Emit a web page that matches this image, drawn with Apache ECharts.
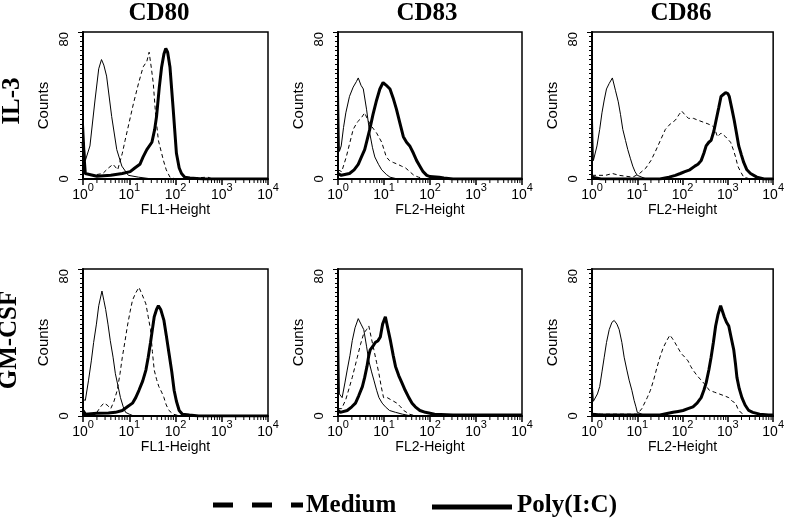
<!DOCTYPE html>
<html>
<head>
<meta charset="utf-8">
<script src="https://cdn.jsdelivr.net/npm/echarts@6/dist/echarts.min.js"></script>
<style>
  html, body { margin: 0; background: #fff; }
  #chart { width: 787px; height: 520px; }
</style>
</head>
<body>
<div id="chart"></div>
<script>
// labels
const markers = ['CD80', 'CD83', 'CD86']
const cultures = ['IL-3', 'GM-CSF']
const channels = ['FL1-Height', 'FL2-Height', 'FL2-Height']
const legendNames = ['Medium', 'Poly(I:C)']
const yLabels = [0, 80]

// histograms: [log10 decade, counts]
const il3Cd80Iso = [[0,35],[0.05,10],[0.09,9],[0.15,18],[0.26,43],[0.34,60],[0.40,65],[0.45,62],[0.51,56],[0.62,34],[0.73,16],[0.84,7],[0.98,2],[1.2,1],[1.5,0],[4,0]]
const il3Cd80Medium = [[0,3],[0.2,2],[0.43,3],[0.55,6],[0.65,8],[0.75,5],[0.85,14],[0.91,21],[1.0,31],[1.09,41],[1.2,52],[1.30,61],[1.38,64],[1.43,69],[1.48,60],[1.52,52],[1.57,35],[1.63,21],[1.70,14],[1.74,10],[1.80,5],[1.88,1],[2.0,0],[2.7,1],[2.8,0],[4,0]]
const il3Cd80Poly = [[0,20],[0.05,3],[0.3,1.5],[0.6,2],[0.85,3],[1.02,4],[1.12,6],[1.23,8],[1.30,12],[1.38,16],[1.49,20],[1.55,27],[1.59,34],[1.65,50],[1.70,61],[1.75,68],[1.79,71],[1.83,69],[1.88,61],[1.95,38],[2.02,14],[2.08,6],[2.13,3],[2.2,1],[2.31,0.5],[2.6,0],[4,0]]

const il3Cd83Iso = [[0,66],[0.03,15],[0.07,18],[0.12,28],[0.17,36],[0.25,45],[0.33,50],[0.40,53],[0.44,55],[0.50,51],[0.55,49],[0.62,38],[0.69,25],[0.75,17],[0.80,12],[0.88,8],[0.95,5],[1.05,2.5],[1.13,1],[1.3,0],[4,0]]
const il3Cd83Medium = [[0,5],[0.08,4],[0.13,8],[0.18,12],[0.25,19],[0.33,27],[0.42,31],[0.50,33],[0.58,36],[0.65,32],[0.72,29],[0.78,27],[0.84,25],[0.95,20],[1.05,12],[1.12,10],[1.2,9],[1.30,8],[1.38,7],[1.47,6],[1.56,4],[1.65,2],[1.75,1],[1.9,0],[4,0]]
const il3Cd83Poly = [[0,3],[0.07,2],[0.25,3],[0.35,5],[0.44,8],[0.51,12],[0.58,16],[0.64,22],[0.69,27],[0.76,35],[0.84,43],[0.91,49],[0.98,52.5],[1.05,51],[1.13,49],[1.20,44],[1.27,38],[1.35,30],[1.42,23],[1.49,20],[1.56,18],[1.64,14],[1.71,10],[1.78,7],[1.85,4],[1.93,2],[2.0,1.3],[2.2,1],[2.3,0.5],[2.5,0],[4,0]]

const il3Cd86Iso = [[0,45],[0.03,10],[0.07,9],[0.11,18],[0.17,27],[0.22,36],[0.27,43],[0.32,49],[0.38,52],[0.45,55],[0.52,48],[0.58,42],[0.63,35],[0.68,27],[0.74,21],[0.79,16],[0.85,11],[0.90,7],[0.95,4],[1.0,2],[1.1,1],[1.2,0],[4,0]]
const il3Cd86Medium = [[0,2],[0.3,2],[0.45,3],[0.6,2],[0.9,1],[1.05,3],[1.19,6],[1.30,10],[1.40,15],[1.51,21],[1.62,27],[1.73,30],[1.84,32],[1.92,35],[1.98,37],[2.05,35],[2.13,33],[2.24,33],[2.34,32],[2.45,31],[2.56,30],[2.65,29],[2.70,28],[2.77,23],[2.85,25],[2.95,23],[3.06,20],[3.12,16],[3.17,12],[3.22,7],[3.28,4],[3.35,1],[3.5,0],[4,0]]
const il3Cd86Poly = [[0,1],[0.2,0],[1.5,0],[1.7,1],[1.84,2],[1.95,3],[2.05,4],[2.16,5],[2.27,7],[2.34,8],[2.41,10],[2.47,14],[2.52,18],[2.58,20],[2.63,21],[2.69,26],[2.74,32],[2.80,39],[2.85,45],[2.90,46],[2.95,47],[3.0,46.5],[3.03,45],[3.09,38],[3.14,32],[3.19,25],[3.24,18],[3.30,13],[3.35,9],[3.42,5],[3.5,3],[3.64,1],[3.8,0],[4,0]]

const gmCd80Iso = [[0,9],[0.05,8.5],[0.12,19.5],[0.18,30],[0.23,40],[0.29,50],[0.34,60],[0.41,68],[0.45,63],[0.49,58],[0.54,50],[0.59,41],[0.65,32],[0.70,23],[0.76,16],[0.81,10],[0.87,5],[0.92,2],[1.0,1],[1.1,0],[4,0]]
const gmCd80Medium = [[0,1],[0.2,1],[0.3,2],[0.38,5],[0.45,7],[0.52,6],[0.6,4],[0.67,8],[0.74,14],[0.80,23],[0.85,32],[0.91,41],[0.96,49],[1.02,57],[1.07,63],[1.14,67],[1.21,70],[1.28,66],[1.36,61],[1.41,54],[1.46,47],[1.50,35],[1.54,25],[1.59,20],[1.64,16],[1.70,13],[1.75,10],[1.80,6],[1.86,3],[1.95,1],[2.1,0],[4,0]]
const gmCd80Poly = [[0,3],[0.05,1],[0.3,1.5],[0.55,1.6],[0.70,2],[0.85,3],[0.96,5],[1.07,7],[1.14,10],[1.21,14],[1.29,19],[1.36,25],[1.41,32],[1.46,40],[1.50,47],[1.54,54],[1.59,58],[1.63,60],[1.68,58],[1.75,52],[1.80,44],[1.86,34],[1.92,24],[1.97,14],[2.02,8],[2.08,3],[2.15,1],[2.3,0.5],[2.5,0],[4,0]]

const gmCd83Iso = [[0,71],[0.03,12],[0.09,10],[0.15,18],[0.20,25],[0.26,33],[0.31,41],[0.37,48],[0.44,53],[0.50,50],[0.56,47],[0.62,38],[0.67,30],[0.73,24],[0.78,19.5],[0.84,14],[0.89,10],[0.96,7],[1.03,5],[1.12,3],[1.25,2],[1.4,1],[1.6,0],[4,0]]
const gmCd83Medium = [[0,4],[0.08,4],[0.17,9],[0.24,15],[0.31,21],[0.37,27],[0.42,32],[0.49,39],[0.56,45],[0.62,47],[0.67,49],[0.72,43],[0.78,36],[0.84,29],[0.89,23],[0.94,16],[0.99,10],[1.07,10],[1.14,9],[1.21,8],[1.28,7],[1.36,5],[1.43,3],[1.55,1],[1.7,0],[4,0]]
const gmCd83Poly = [[0,3],[0.05,2],[0.20,3],[0.30,5],[0.38,7],[0.45,11],[0.53,16],[0.58,21],[0.63,27],[0.67,33],[0.70,36],[0.76,38],[0.81,40],[0.87,41],[0.92,43],[0.97,50],[1.03,54],[1.08,48],[1.14,41],[1.20,33],[1.25,27],[1.32,22],[1.39,18],[1.46,14],[1.54,10],[1.61,7],[1.68,5],[1.78,3],[1.90,2],[2.1,1],[2.5,0.5],[3,0.5],[3.5,0.5],[4,0.5]]

const gmCd86Iso = [[0,20],[0.03,8],[0.07,8],[0.12,12],[0.17,16],[0.22,24],[0.27,32],[0.32,40],[0.38,47],[0.44,51],[0.49,52],[0.55,50],[0.60,47],[0.66,40],[0.71,32],[0.77,25],[0.82,19.5],[0.88,14],[0.93,8.5],[0.97,5],[1.0,2],[1.1,1],[1.2,0],[4,0]]
const gmCd86Medium = [[0,1],[0.5,1],[1.0,1],[1.1,4],[1.22,10],[1.29,14],[1.36,19.5],[1.43,26],[1.50,32],[1.57,37],[1.65,41],[1.72,44],[1.78,42],[1.83,40],[1.90,37],[1.97,34],[2.05,32],[2.12,30],[2.18,27],[2.23,25],[2.32,22],[2.41,19.5],[2.50,17],[2.59,14],[2.70,13],[2.81,12],[2.92,11],[3.02,10],[3.10,8],[3.17,7],[3.22,4],[3.28,2],[3.4,0],[4,0]]
const gmCd86Poly = [[0,1],[0.2,0.5],[1.5,0.5],[1.79,2],[1.90,2.5],[2.01,3],[2.12,4],[2.23,5],[2.32,7],[2.41,10],[2.47,14],[2.52,18],[2.58,25],[2.63,32],[2.68,40],[2.73,49],[2.78,55],[2.84,60],[2.88,57],[2.92,54],[2.97,51],[3.02,49],[3.07,43],[3.13,36],[3.17,28],[3.20,21],[3.25,15],[3.31,10],[3.38,6],[3.46,3],[3.55,2],[3.7,1],[3.9,0.5],[4,0.5]]

const panels = [
  [il3Cd80Iso, il3Cd80Medium, il3Cd80Poly],
  [il3Cd83Iso, il3Cd83Medium, il3Cd83Poly],
  [il3Cd86Iso, il3Cd86Medium, il3Cd86Poly],
  [gmCd80Iso, gmCd80Medium, gmCd80Poly],
  [gmCd83Iso, gmCd83Medium, gmCd83Poly],
  [gmCd86Iso, gmCd86Medium, gmCd86Poly]
]

// log minor tick positions (2..9 in each decade)
const minorTicks = []
for (let d = 0; d < 4; d++) {
  for (let m = 2; m <= 9; m++) minorTicks.push([d + Math.log10(m), 0])
}

const lefts = [83, 338, 592]
const widths = [185, 184, 185]
const tops = [32, 269]
const sans = 'Liberation Sans'
const serif = 'Liberation Serif'
const boldSerif = 'bold 25px "' + serif + '"'

const grid = [], xAxis = [], yAxis = [], series = []
panels.forEach((curves, i) => {
  const row = Math.floor(i / 3), col = i % 3
  grid.push({
    left: lefts[col], top: tops[row], width: widths[col], height: 147,
    show: true, borderColor: '#000', borderWidth: 1.5, backgroundColor: 'transparent'
  })
  xAxis.push({
    gridIndex: i, type: 'value', min: 0, max: 4, interval: 1,
    name: channels[col], nameLocation: 'middle', nameGap: 19,
    nameTextStyle: { fontFamily: sans, fontSize: 14, color: '#000' },
    axisLine: { lineStyle: { color: '#000', width: 2 } },
    axisTick: { length: 6, lineStyle: { color: '#000', width: 1.5 } },
    splitLine: { show: false },
    axisLabel: {
      margin: 3, color: '#000', fontFamily: sans,
      formatter: v => '{b|10}{s|' + v + '}',
      rich: {
        b: { fontSize: 14, fontFamily: sans, color: '#000', lineHeight: 20, verticalAlign: 'bottom' },
        s: { fontSize: 11, fontFamily: sans, color: '#000', lineHeight: 12, verticalAlign: 'top' }
      }
    }
  })
  yAxis.push({
    gridIndex: i, type: 'value', min: yLabels[0], max: yLabels[1], interval: 80,
    name: 'Counts', nameLocation: 'middle', nameGap: 32, nameRotate: 90,
    nameTextStyle: { fontFamily: sans, fontSize: 15, color: '#000' },
    axisLine: { lineStyle: { color: '#000', width: 2 } },
    axisTick: { length: 5, lineStyle: { color: '#000', width: 1 } },
    minorTick: { show: true, splitNumber: 32, length: 3, lineStyle: { color: '#000', width: 1 } },
    splitLine: { show: false },
    axisLabel: { rotate: 90, margin: 12, color: '#000', fontFamily: sans, fontSize: 13, alignMaxLabel: 'right' }
  })
  const styles = [
    { name: 'Isotype', lineStyle: { color: '#000', width: 1 } },
    { name: legendNames[0], lineStyle: { color: '#000', width: 1, type: [4, 3] } },
    { name: legendNames[1], lineStyle: { color: '#000', width: 3 } }
  ]
  curves.forEach((pts, k) => {
    series.push({
      name: styles[k].name, type: 'line', xAxisIndex: i, yAxisIndex: i,
      data: pts, showSymbol: false, symbol: 'none', lineStyle: styles[k].lineStyle,
      itemStyle: { color: '#000' }, silent: true
    })
  })
  series.push({
    type: 'custom', xAxisIndex: i, yAxisIndex: i, data: minorTicks, silent: true,
    renderItem: (params, api) => {
      const p = api.coord([api.value(0), 0])
      return { type: 'line', shape: { x1: p[0], y1: p[1], x2: p[0], y2: p[1] + 4 }, style: { stroke: '#000', lineWidth: 1 } }
    }
  })
})

const headText = (text, x, y, rot) => ({
  type: 'text', x: x, y: y, rotation: rot || 0,
  style: { text: text, font: boldSerif, fill: '#000', textAlign: 'center', textVerticalAlign: 'middle' }
})

// legend drawn as line samples with labels
const legendItems = [
  { type: 'line', shape: { x1: 213, y1: 505, x2: 303, y2: 505 }, style: { stroke: '#000', lineWidth: 5, lineDash: [20, 19] } },
  { type: 'text', x: 306, y: 506, style: { text: legendNames[0], font: boldSerif, fill: '#000', textAlign: 'left', textVerticalAlign: 'middle' } },
  { type: 'line', shape: { x1: 432, y1: 507, x2: 512, y2: 507 }, style: { stroke: '#000', lineWidth: 5 } },
  { type: 'text', x: 517, y: 506, style: { text: legendNames[1], font: boldSerif, fill: '#000', textAlign: 'left', textVerticalAlign: 'middle' } }
]

const option = {
  animation: false,
  backgroundColor: '#fff',
  grid, xAxis, yAxis, series,
  graphic: [
    headText(markers[0], 159, 14),
    headText(markers[1], 427, 14),
    headText(markers[2], 681, 14),
    headText(cultures[0], 13, 101, Math.PI / 2),
    headText(cultures[1], 10, 340, Math.PI / 2)
  ].concat(legendItems)
}

const chart = echarts.init(document.getElementById('chart'))
chart.setOption(option)
</script>
</body>
</html>
